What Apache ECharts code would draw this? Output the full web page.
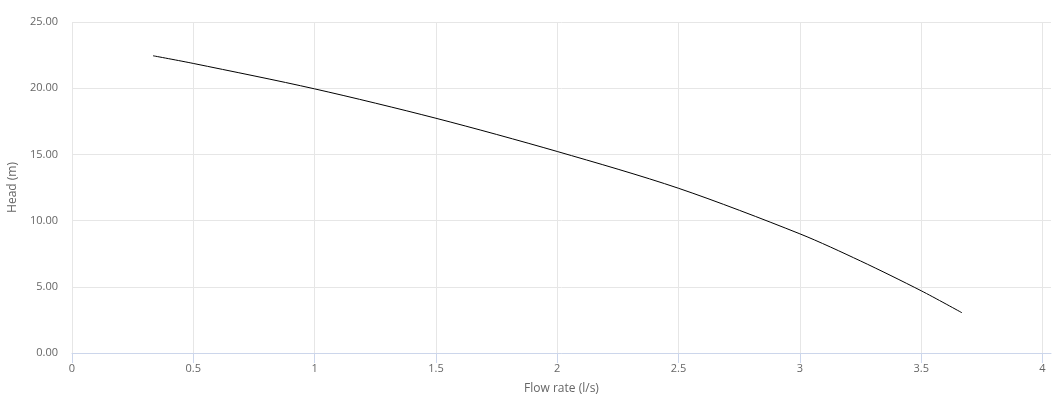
<!DOCTYPE html>
<html>
<head>
<meta charset="utf-8">
<script src="https://cdn.jsdelivr.net/npm/echarts@6/dist/echarts.min.js"></script>
<style>
html,body{margin:0;padding:0;background:#fff;}
#chart{width:1061px;height:396px;}
</style>
</head>
<body>
<div id="chart"></div>
<script>
const flowRates = [0.334, 0.5, 1.0, 1.5, 2.0, 2.5, 3.0, 3.25, 3.5, 3.668];
const heads = [22.45, 21.87, 19.95, 17.73, 15.22, 12.44, 9.0, 6.95, 4.7, 3.04];
const xTicks = [0, 0.5, 1, 1.5, 2, 2.5, 3, 3.5, 4];
const yTicks = [0, 5, 10, 15, 20, 25];

const points = flowRates.map((x, i) => [x, heads[i]]);
const font = 'Open Sans';
const chart = echarts.init(document.getElementById('chart'), null, {renderer: 'canvas'});
chart.setOption({
  animation: false,
  backgroundColor: '#ffffff',
  textStyle: {fontFamily: font},
  grid: {left: 72, right: 10, top: 22, bottom: 43, containLabel: false, outerBoundsMode: 'none'},
  xAxis: {
    type: 'value',
    min: 0,
    max: 4.035,
    interval: 0.5,
    name: 'Flow rate (l/s)',
    nameLocation: 'middle',
    nameGap: 30,
    nameTextStyle: {color: '#666666', fontSize: 12, fontFamily: font},
    axisLine: {show: true, lineStyle: {color: '#ccd6eb', width: 1}},
    axisTick: {show: true, length: 10, lineStyle: {color: '#ccd6eb', width: 1}},
    axisLabel: {color: '#666666', fontSize: 11, fontFamily: font, margin: 10,
      showMaxLabel: false,
      formatter: v => (xTicks.indexOf(Math.round(v * 1000) / 1000) >= 0 ? String(v) : '')},
    splitLine: {show: true, showMaxLine: false, lineStyle: {color: '#e6e6e6', width: 1}}
  },
  yAxis: {
    type: 'value',
    min: 0,
    max: 25,
    interval: 5,
    name: 'Head (m)',
    nameLocation: 'middle',
    nameGap: 49,
    nameTextStyle: {color: '#666666', fontSize: 12, fontFamily: font},
    axisLine: {show: false},
    axisTick: {show: false},
    axisLabel: {color: '#666666', fontSize: 11, fontFamily: font, margin: 14,
      customValues: yTicks, formatter: v => v.toFixed(2)},
    splitLine: {show: true, lineStyle: {color: '#e6e6e6', width: 1}}
  },
  series: [{
    type: 'line',
    data: points,
    smooth: 0.3,
    showSymbol: false,
    symbol: 'none',
    lineStyle: {color: '#000000', width: 1}
  }]
});
</script>
</body>
</html>
